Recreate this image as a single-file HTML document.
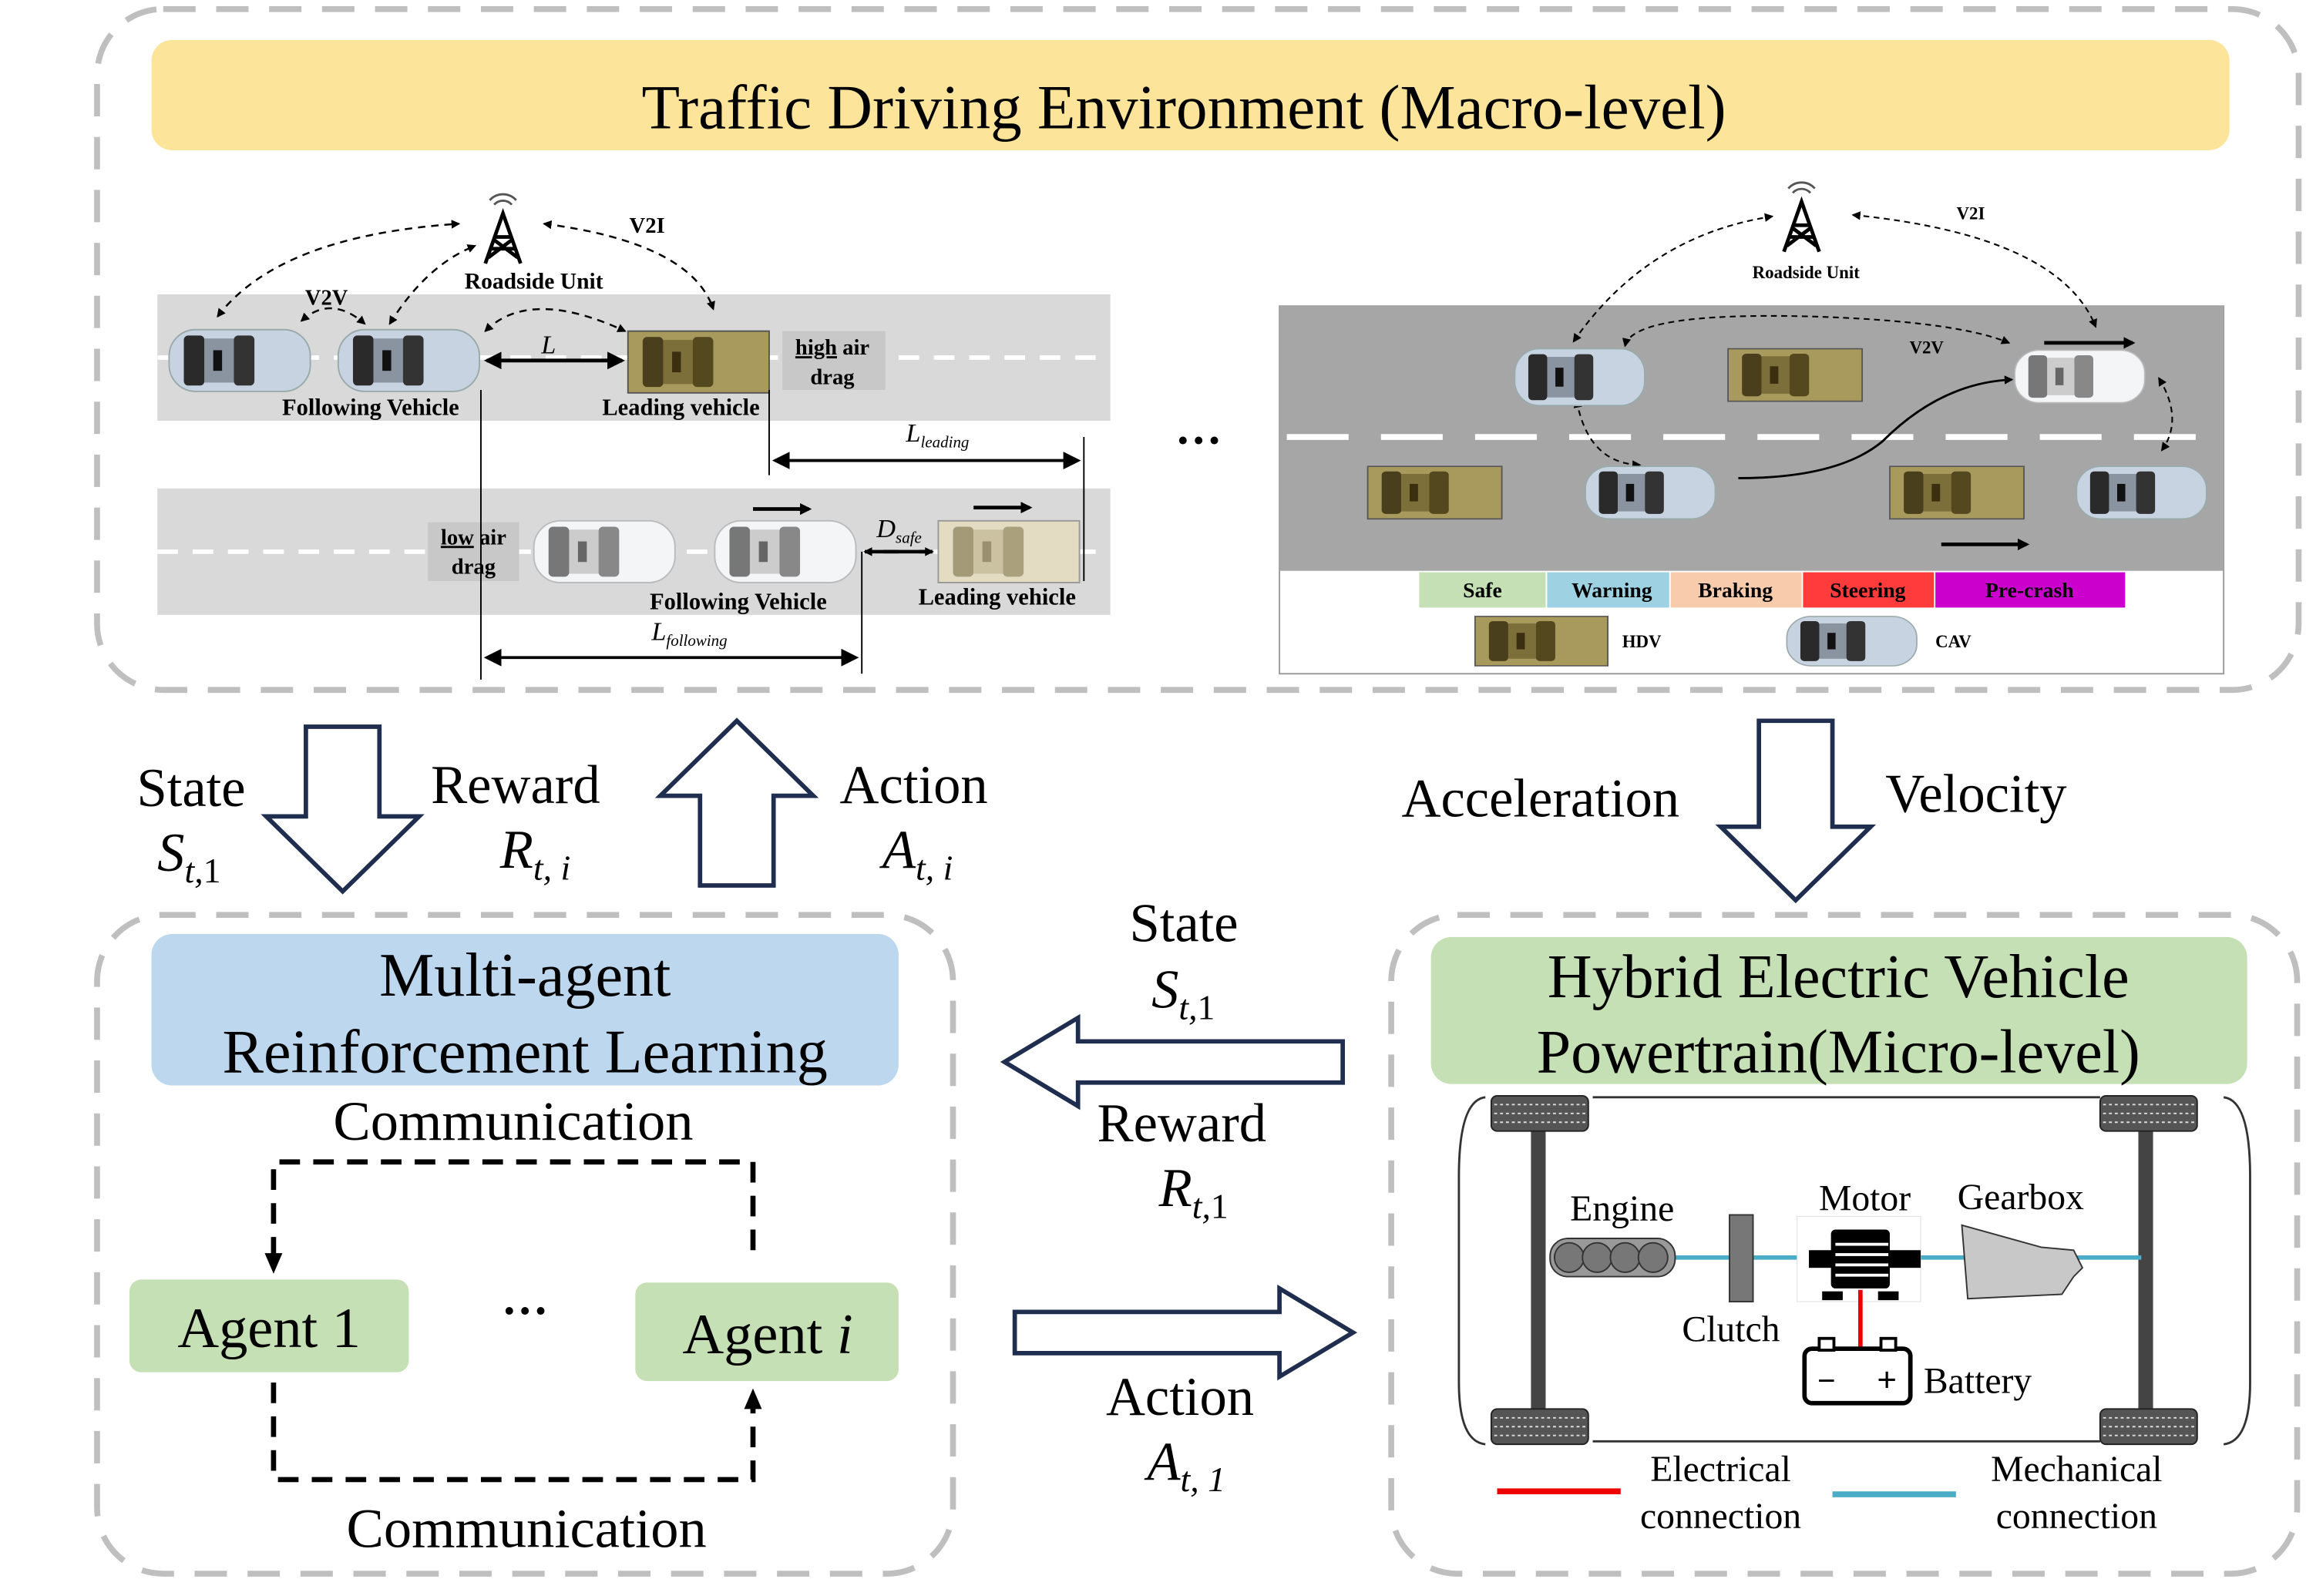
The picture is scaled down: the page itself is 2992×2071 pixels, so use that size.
<!DOCTYPE html>
<html><head><meta charset="utf-8"><style>
html,body{margin:0;padding:0;background:#fff}
svg{display:block}
text{font-family:"Liberation Serif",serif;fill:#000}
</style></head><body>
<svg width="2992" height="2071" viewBox="0 0 1568 1085" xmlns="http://www.w3.org/2000/svg">
<defs>
<marker id="ah" markerWidth="8" markerHeight="8" refX="6" refY="4" orient="auto" markerUnits="userSpaceOnUse"><path d="M0,0 L8,4 L0,8 Z" fill="#000"/></marker>
<marker id="ahs" markerWidth="6" markerHeight="6" refX="5" refY="3" orient="auto-start-reverse" markerUnits="userSpaceOnUse"><path d="M0,0 L6,3 L0,6 Z" fill="#000"/></marker>
<marker id="ab" markerWidth="12" markerHeight="12" refX="10" refY="6" orient="auto-start-reverse" markerUnits="userSpaceOnUse"><path d="M0,0 L12,6 L0,12 Z" fill="#000"/></marker>
<g id="cav"><rect x="0" y="0" width="96" height="42" rx="18" fill="#c8d3e2" stroke="#9aa" stroke-width="1"/><rect x="10" y="4" width="14" height="34" rx="3" fill="#2a2a2a"/><rect x="24" y="6" width="20" height="30" fill="#8a93a0"/><rect x="44" y="4" width="14" height="34" rx="3" fill="#333"/><rect x="30" y="14" width="6" height="14" fill="#111"/></g>
<g id="cavw"><rect x="0" y="0" width="96" height="42" rx="18" fill="#f4f5f7" stroke="#bbb" stroke-width="1"/><rect x="10" y="4" width="14" height="34" rx="3" fill="#777"/><rect x="24" y="6" width="20" height="30" fill="#ccc"/><rect x="44" y="4" width="14" height="34" rx="3" fill="#888"/><rect x="30" y="14" width="6" height="14" fill="#666"/></g>
<g id="hdv"><rect x="0" y="0" width="96" height="42" fill="#a8995c" stroke="#555" stroke-width="1"/><rect x="10" y="4" width="14" height="34" rx="3" fill="#4a3f1c"/><rect x="24" y="6" width="20" height="30" fill="#7d6f3a"/><rect x="44" y="4" width="14" height="34" rx="3" fill="#54481f"/><rect x="30" y="14" width="6" height="14" fill="#3a3010"/></g>
<g id="hdvl"><rect x="0" y="0" width="96" height="42" fill="#e3dcc2" stroke="#999" stroke-width="1"/><rect x="10" y="4" width="14" height="34" rx="3" fill="#a49a78"/><rect x="24" y="6" width="20" height="30" fill="#cbc2a2"/><rect x="44" y="4" width="14" height="34" rx="3" fill="#aaa07c"/><rect x="30" y="14" width="6" height="14" fill="#9a9070"/></g>
<g id="tower"><path d="M0,34 L12,0 L24,34 M4,24 L20,24 M6,16 L18,16 M2,30 L18,18 M22,30 L6,18" stroke="#000" stroke-width="2.5" fill="none"/><path d="M6,-6 a8,8 0 0 1 12,0 M3,-9 a12,12 0 0 1 18,0" stroke="#555" stroke-width="1.5" fill="none"/></g>
</defs>

<rect x="66" y="6" width="1497" height="463" rx="45" fill="none" stroke="#bfbfbf" stroke-width="4" stroke-dasharray="22,14"/>
<rect x="103" y="27" width="1413" height="75" rx="14" fill="#fde49b"/>
<text x="805" y="87" font-size="42.5" text-anchor="middle">Traffic Driving Environment (Macro-level)</text>

<rect x="107" y="200" width="648" height="86" fill="#d9d9d9"/>
<line x1="107" y1="243" x2="755" y2="243" stroke="#fff" stroke-width="3" stroke-dasharray="14,10"/>
<rect x="107" y="332" width="648" height="86" fill="#d9d9d9"/>
<line x1="107" y1="375" x2="755" y2="375" stroke="#fff" stroke-width="3" stroke-dasharray="14,10"/>
<use href="#tower" x="330" y="145"/>
<text x="363" y="196" font-size="15.5" font-weight="bold" text-anchor="middle">Roadside Unit</text>
<text x="440" y="158" font-size="15" font-weight="bold" text-anchor="middle">V2I</text>
<text x="222" y="207" font-size="15" font-weight="bold" text-anchor="middle">V2V</text>
<g fill="none" stroke="#000" stroke-width="1.3" stroke-dasharray="5,4">
<path d="M148,215 Q190,160 312,152" marker-end="url(#ahs)" marker-start="url(#ahs)"/>
<path d="M370,152 Q470,165 485,210" marker-end="url(#ahs)" marker-start="url(#ahs)"/>
<path d="M265,220 Q290,180 323,167" marker-end="url(#ahs)" marker-start="url(#ahs)"/>
<path d="M205,218 Q225,200 248,220" marker-end="url(#ahs)" marker-start="url(#ahs)"/>
<path d="M330,225 Q360,195 425,225" marker-end="url(#ahs)" marker-start="url(#ahs)"/>
</g>
<use href="#cav" x="115" y="224"/>
<use href="#cav" x="230" y="224"/>
<use href="#hdv" x="427" y="225"/>
<rect x="532" y="225" width="70" height="40" fill="#c8c8c8"/>
<text x="566" y="241" font-size="15" font-weight="bold" text-anchor="middle"><tspan text-decoration="underline">high</tspan> air</text>
<text x="566" y="261" font-size="15" font-weight="bold" text-anchor="middle">drag</text>
<text x="252" y="282" font-size="16" font-weight="bold" text-anchor="middle">Following Vehicle</text>
<text x="463" y="282" font-size="16" font-weight="bold" text-anchor="middle">Leading vehicle</text>
<line x1="331" y1="245" x2="423" y2="245" stroke="#000" stroke-width="2.5" marker-start="url(#ab)" marker-end="url(#ab)"/>
<text x="368" y="240" font-size="18" font-style="italic">L</text>
<line x1="523" y1="265" x2="523" y2="323" stroke="#000" stroke-width="1"/>
<line x1="737" y1="297" x2="737" y2="395" stroke="#000" stroke-width="1"/>
<line x1="527" y1="313" x2="733" y2="313" stroke="#000" stroke-width="2" marker-start="url(#ab)" marker-end="url(#ab)"/>
<text x="616" y="300" font-size="18" font-style="italic">L<tspan font-size="11" dy="4">leading</tspan></text>
<rect x="291" y="355" width="62" height="40" fill="#c8c8c8"/>
<text x="322" y="370" font-size="15" font-weight="bold" text-anchor="middle"><tspan text-decoration="underline">low</tspan> air</text>
<text x="322" y="390" font-size="15" font-weight="bold" text-anchor="middle">drag</text>
<use href="#cavw" x="363" y="354"/>
<use href="#cavw" x="486" y="354"/>
<use href="#hdvl" x="638" y="354"/>
<line x1="512" y1="346" x2="550" y2="346" stroke="#000" stroke-width="2.5" marker-end="url(#ah)"/>
<line x1="662" y1="345" x2="700" y2="345" stroke="#000" stroke-width="2.5" marker-end="url(#ah)"/>
<line x1="588" y1="375" x2="634" y2="375" stroke="#000" stroke-width="2.5" marker-start="url(#ahs)" marker-end="url(#ahs)"/>
<text x="596" y="365" font-size="18" font-style="italic">D<tspan font-size="11" dy="4">safe</tspan></text>
<text x="502" y="414" font-size="16" font-weight="bold" text-anchor="middle">Following Vehicle</text>
<text x="678" y="411" font-size="16" font-weight="bold" text-anchor="middle">Leading vehicle</text>
<line x1="327" y1="265" x2="327" y2="462" stroke="#000" stroke-width="1"/>
<line x1="586" y1="375" x2="586" y2="458" stroke="#000" stroke-width="1"/>
<line x1="331" y1="447" x2="582" y2="447" stroke="#000" stroke-width="2" marker-start="url(#ab)" marker-end="url(#ab)"/>
<text x="443" y="435" font-size="18" font-style="italic">L<tspan font-size="11" dy="4">following</tspan></text>
<text x="815" y="310" font-size="32" font-weight="bold" text-anchor="middle">···</text>

<rect x="870" y="208" width="642" height="250" fill="#fff" stroke="#999" stroke-width="1"/>
<rect x="870" y="208" width="642" height="180" fill="#a6a6a6"/>
<line x1="875" y1="297" x2="1512" y2="297" stroke="#fff" stroke-width="4" stroke-dasharray="42,22"/>
<use href="#tower" x="1213" y="137"/>
<text x="1228" y="189" font-size="12" font-weight="bold" text-anchor="middle">Roadside Unit</text>
<text x="1340" y="149" font-size="12" font-weight="bold" text-anchor="middle">V2I</text>
<text x="1310" y="240" font-size="12" font-weight="bold" text-anchor="middle">V2V</text>
<g fill="none" stroke="#000" stroke-width="1.1" stroke-dasharray="4,3">
<path d="M1070,232 Q1120,160 1205,147" marker-end="url(#ahs)" marker-start="url(#ahs)"/>
<path d="M1260,146 Q1400,160 1425,222" marker-end="url(#ahs)" marker-start="url(#ahs)"/>
<path d="M1105,235 Q1110,212 1230,215 Q1330,218 1366,233" marker-end="url(#ahs)" marker-start="url(#ahs)"/>
<path d="M1072,272 Q1080,315 1115,316" marker-end="url(#ahs)" marker-start="url(#ahs)"/>
<path d="M1468,257 Q1485,285 1470,306" marker-end="url(#ahs)" marker-start="url(#ahs)"/>
</g>
<use href="#cav" x="1030" y="237" transform="translate(1030,237) scale(0.92) translate(-1030,-237)"/>
<use href="#hdv" x="1175" y="237" transform="translate(1175,237) scale(0.95,0.85) translate(-1175,-237)"/>
<use href="#cavw" x="1370" y="238" transform="translate(1370,238) scale(0.92,0.85) translate(-1370,-238)"/>
<use href="#hdv" x="930" y="317" transform="translate(930,317) scale(0.95,0.85) translate(-930,-317)"/>
<use href="#cav" x="1078" y="317" transform="translate(1078,317) scale(0.92,0.85) translate(-1078,-317)"/>
<use href="#hdv" x="1285" y="317" transform="translate(1285,317) scale(0.95,0.85) translate(-1285,-317)"/>
<use href="#cav" x="1412" y="317" transform="translate(1412,317) scale(0.92,0.85) translate(-1412,-317)"/>
<path d="M1182,325 Q1250,325 1280,300 Q1320,260 1368,258" fill="none" stroke="#000" stroke-width="1.5" marker-end="url(#ahs)"/>
<line x1="1390" y1="233" x2="1450" y2="233" stroke="#000" stroke-width="2.5" marker-end="url(#ah)"/>
<line x1="1320" y1="370" x2="1378" y2="370" stroke="#000" stroke-width="2.5" marker-end="url(#ah)"/>
<rect x="965" y="389" width="86" height="24" fill="#c5e0b4"/>
<rect x="1052" y="389" width="83" height="24" fill="#9ed2e2"/>
<rect x="1136" y="389" width="89" height="24" fill="#f8cbad"/>
<rect x="1226" y="389" width="89" height="24" fill="#ff3b3b"/>
<rect x="1316" y="389" width="129" height="24" fill="#cc00cc"/>
<g font-size="14.5" font-weight="bold" text-anchor="middle">
<text x="1008" y="406">Safe</text><text x="1096" y="406">Warning</text><text x="1180" y="406">Braking</text><text x="1270" y="406">Steering</text><text x="1380" y="406">Pre-crash</text>
</g>
<use href="#hdv" x="1003" y="419" transform="translate(1003,419) scale(0.94,0.8) translate(-1003,-419)"/>
<text x="1103" y="440" font-size="12" font-weight="bold">HDV</text>
<use href="#cav" x="1215" y="419" transform="translate(1215,419) scale(0.92,0.8) translate(-1215,-419)"/>
<text x="1316" y="440" font-size="12" font-weight="bold">CAV</text>

<g fill="#fff" stroke="#1f2d4f" stroke-width="3">
<path d="M208,494 L258,494 L258,555 L285,555 L233,606 L181,555 L208,555 Z"/>
<path d="M476,602 L526,602 L526,541 L553,541 L501,490 L449,541 L476,541 Z"/>
<path d="M1196,490 L1246,490 L1246,562 L1272,562 L1221,612 L1170,562 L1196,562 Z"/>
<path d="M913,708 L913,736 L733,736 L733,752 L683,722 L733,692 L733,708 Z"/>
<path d="M690,892 L690,920 L870,920 L870,936 L920,906 L870,876 L870,892 Z"/>
</g>
<g font-size="37">
<text x="93" y="548">State</text>
<text x="107" y="592" font-style="italic">S<tspan font-size="24" dy="8">t,</tspan><tspan font-size="24" font-style="normal">1</tspan></text>
<text x="293" y="546">Reward</text>
<text x="340" y="590" font-style="italic">R<tspan font-size="24" dy="8">t, i</tspan></text>
<text x="571" y="546">Action</text>
<text x="600" y="590" font-style="italic">A<tspan font-size="24" dy="8">t, i</tspan></text>
<text x="953" y="555">Acceleration</text>
<text x="1282" y="552">Velocity</text>
<text x="768" y="640">State</text>
<text x="783" y="685" font-style="italic">S<tspan font-size="24" dy="8">t,</tspan><tspan font-size="24" font-style="normal">1</tspan></text>
<text x="746" y="776">Reward</text>
<text x="788" y="820" font-style="italic">R<tspan font-size="24" dy="8">t,</tspan><tspan font-size="24" font-style="normal">1</tspan></text>
<text x="752" y="962">Action</text>
<text x="780" y="1006" font-style="italic">A<tspan font-size="24" dy="8">t, 1</tspan></text>
</g>

<rect x="66" y="622" width="582" height="448" rx="45" fill="none" stroke="#bfbfbf" stroke-width="4" stroke-dasharray="22,14"/>
<rect x="103" y="635" width="508" height="103" rx="14" fill="#bdd7ee"/>
<g font-size="42" text-anchor="middle">
<text x="357" y="677">Multi-agent</text>
<text x="357" y="729">Reinforcement Learning</text>
</g>
<text x="349" y="775" font-size="38" text-anchor="middle">Communication</text>
<text x="358" y="1052" font-size="38" text-anchor="middle">Communication</text>
<path d="M186,855 L186,790 L512,790 L512,855" fill="none" stroke="#000" stroke-width="3.5" stroke-dasharray="14,9"/>
<path d="M186,940 L186,1006 L512,1006 L512,950" fill="none" stroke="#000" stroke-width="3.5" stroke-dasharray="14,9"/>
<path d="M180,852 L192,852 L186,866 Z" fill="#000"/>
<path d="M506,958 L518,958 L512,944 Z" fill="#000"/>
<rect x="88" y="870" width="190" height="63" rx="8" fill="#c5e0b4"/>
<rect x="432" y="872" width="179" height="67" rx="8" fill="#c5e0b4"/>
<text x="183" y="916" font-size="39" text-anchor="middle">Agent 1</text>
<text x="522" y="920" font-size="39" text-anchor="middle">Agent <tspan font-style="italic">i</tspan></text>
<text x="357" y="902" font-size="32" font-weight="bold" text-anchor="middle">···</text>

<rect x="946" y="622" width="616" height="448" rx="45" fill="none" stroke="#bfbfbf" stroke-width="4" stroke-dasharray="22,14"/>
<rect x="973" y="637" width="555" height="100" rx="14" fill="#c5e0b4"/>
<g font-size="42" text-anchor="middle">
<text x="1250" y="678">Hybrid Electric Vehicle</text>
<text x="1250" y="729">Powertrain(Micro-level)</text>
</g>
<path d="M1010,746 Q992,748 992,800 L992,940 Q992,980 1010,982" fill="none" stroke="#333" stroke-width="1.5"/>
<path d="M1512,746 Q1530,748 1530,800 L1530,940 Q1530,980 1512,982" fill="none" stroke="#333" stroke-width="1.5"/>
<line x1="1083" y1="746" x2="1428" y2="746" stroke="#333" stroke-width="1.5"/>
<line x1="1083" y1="980" x2="1428" y2="980" stroke="#333" stroke-width="1.5"/>
<rect x="1041" y="765" width="10" height="200" fill="#444"/>
<rect x="1454" y="765" width="10" height="200" fill="#444"/>
<g fill="#555" stroke="#222" stroke-width="1">
<rect x="1014" y="745" width="66" height="24" rx="4"/><rect x="1014" y="958" width="66" height="24" rx="4"/>
<rect x="1428" y="745" width="66" height="24" rx="4"/><rect x="1428" y="958" width="66" height="24" rx="4"/>
</g>
<g stroke="#ddd" stroke-width="1" stroke-dasharray="2,2">
<line x1="1016" y1="751" x2="1078" y2="751"/><line x1="1016" y1="757" x2="1078" y2="757"/><line x1="1016" y1="763" x2="1078" y2="763"/>
<line x1="1016" y1="964" x2="1078" y2="964"/><line x1="1016" y1="970" x2="1078" y2="970"/><line x1="1016" y1="976" x2="1078" y2="976"/>
<line x1="1430" y1="751" x2="1492" y2="751"/><line x1="1430" y1="757" x2="1492" y2="757"/><line x1="1430" y1="763" x2="1492" y2="763"/>
<line x1="1430" y1="964" x2="1492" y2="964"/><line x1="1430" y1="970" x2="1492" y2="970"/><line x1="1430" y1="976" x2="1492" y2="976"/>
</g>
<line x1="1138" y1="855" x2="1456" y2="855" stroke="#4bacc6" stroke-width="3"/>
<rect x="1054" y="842" width="85" height="26" rx="12" fill="#999" stroke="#333"/>
<g fill="#777" stroke="#333"><circle cx="1067" cy="855" r="10"/><circle cx="1086" cy="855" r="10"/><circle cx="1105" cy="855" r="10"/><circle cx="1124" cy="855" r="10"/></g>
<rect x="1176" y="826" width="16" height="59" fill="#777" stroke="#333"/>
<rect x="1222" y="827" width="84" height="58" fill="#fff" stroke="#ddd" stroke-width="0.5"/>
<g fill="#000">
<rect x="1245" y="836" width="40" height="40" rx="3"/><rect x="1230" y="850" width="76" height="12"/><rect x="1239" y="878" width="14" height="6"/><rect x="1277" y="878" width="14" height="6"/>
</g>
<g fill="#fff"><rect x="1248" y="845" width="36" height="2"/><rect x="1248" y="852" width="36" height="2"/><rect x="1248" y="859" width="36" height="2"/><rect x="1248" y="866" width="36" height="2"/></g>
<path d="M1334,833 L1388,848 L1410,850 L1416,862 L1410,868 L1402,880 L1338,883 Z" fill="#c8c8c8" stroke="#333"/>
<line x1="1265" y1="877" x2="1265" y2="918" stroke="#e00" stroke-width="3"/>
<rect x="1227" y="917" width="72" height="37" rx="5" fill="#fff" stroke="#000" stroke-width="3"/>
<rect x="1237" y="910" width="10" height="8" fill="#fff" stroke="#000" stroke-width="2"/><rect x="1279" y="910" width="10" height="8" fill="#fff" stroke="#000" stroke-width="2"/>
<text x="1242" y="946" font-size="22" font-weight="bold" text-anchor="middle">−</text>
<text x="1283" y="946" font-size="24" font-weight="bold" text-anchor="middle">+</text>
<g font-size="25">
<text x="1103" y="830" text-anchor="middle">Engine</text>
<text x="1268" y="823" text-anchor="middle">Motor</text>
<text x="1374" y="822" text-anchor="middle">Gearbox</text>
<text x="1177" y="912" text-anchor="middle">Clutch</text>
<text x="1308" y="947">Battery</text>
<text x="1170" y="1007" text-anchor="middle">Electrical</text>
<text x="1170" y="1039" text-anchor="middle">connection</text>
<text x="1412" y="1007" text-anchor="middle">Mechanical</text>
<text x="1412" y="1039" text-anchor="middle">connection</text>
</g>
<line x1="1018" y1="1014" x2="1102" y2="1014" stroke="#e00" stroke-width="4"/>
<line x1="1246" y1="1016" x2="1330" y2="1016" stroke="#4bacc6" stroke-width="4"/>
</svg>
</body></html>
